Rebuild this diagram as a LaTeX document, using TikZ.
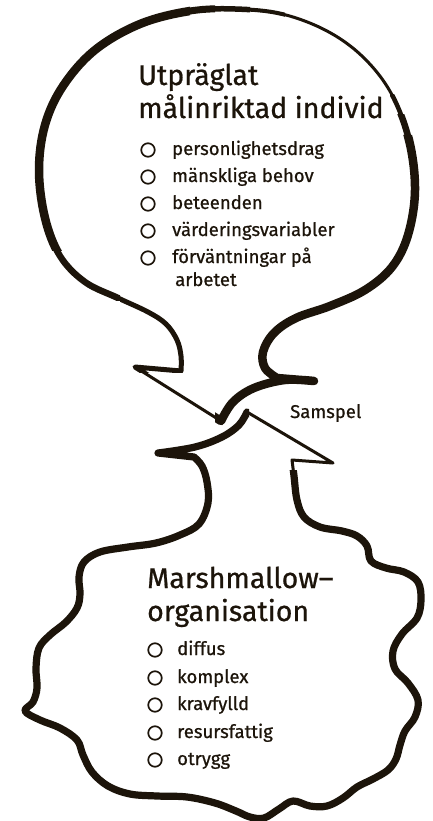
\documentclass[tikz,border=0pt]{standalone}
\usepackage{fontspec}
\setmainfont{Fira Sans}
\newfontfamily\inkfont{Fira Sans}[FakeBold=0.7]
\definecolor{ink}{HTML}{1C140A}
% outline of the upper balloon with its downward arrow
\newcommand\balloonpath{(221,421) -- (135,367) -- (181,371)
  -- plot[smooth,tension=0.6] coordinates {(181,371) (181,356) (177,340) (166,324) (148,312) (118,298) (85,282) (60,256) (45,218) (39,170) (45,125) (63,86) (95,50) (140,24) (190,11) (235,9) (282,14) (327,31) (363,57) (391,93) (409,140) (415,190) (408,235) (392,267) (365,290) (330,306) (296,318) (274,333) (263,352) (265,368) (277,378)}
  -- (314,381)
  -- plot[smooth,tension=0.6] coordinates {(314,381) (285,380) (254,388) (233,402) (221,421)} -- cycle}
% outline of the lower wavy shape with its upward arrow
\newcommand\blobpath{(247,412) -- (333,463) -- (292,460)
  -- plot[smooth,tension=0.6] coordinates {(292,460) (294,476) (297,500) (304,517) (320,527) (342,531) (357,536) (367,546) (371,561) (386,568) (404,572) (418,582) (421,600) (417,618) (402,634) (393,651) (395,669) (408,683) (418,700) (415,717) (405,731) (400,745) (396,759) (388,770) (373,779) (357,787) (343,798) (327,806) (310,806) (293,801) (279,809) (264,818) (250,817) (236,811) (215,803) (187,797) (157,796) (130,794) (108,786) (92,772) (83,755) (77,740) (60,728) (40,720) (25,711) (33,702) (37,688) (36,668) (39,648) (50,635) (66,622) (77,608) (80,594) (79,577) (84,562) (100,552) (128,547) (156,543) (180,535) (199,524) (208,503) (207,482) (202,466) (194,457)}
  -- (158,453)
  -- plot[smooth,tension=0.6] coordinates {(158,453) (195,447) (222,437) (239,425) (247,412)} -- cycle}
% redraw the balloon outline with a given width inside a clip region
\newcommand\pressure[2]{\begin{scope}\clip #1;\draw[thin stroke,line width=#2] \balloonpath;\end{scope}}
\begin{document}
\begin{tikzpicture}[x=1pt,y=-1pt,
  thin stroke/.style={draw=ink,line width=3pt,line join=round,line cap=round},
  title/.style={anchor=base west,inner sep=0pt,text=ink,font=\inkfont\fontsize{28.5}{32}\selectfont},
  item/.style={anchor=base west,inner sep=0pt,text=ink,font=\inkfont\fontsize{18.5}{22}\selectfont},
  bul/.style={circle,draw=ink,line width=1.7pt,minimum size=13.5pt,inner sep=0pt,outer sep=0pt,
    append after command={[draw=ink,line width=2.6pt,line cap=round]
      (\tikzlastnode.-75) arc[start angle=-75,end angle=25,radius=6.75pt]}}]
\useasboundingbox (0,0) rectangle (432,821);
\fill[white] (0,0) rectangle (432,821);

% upper balloon: thin base stroke, heavier where the pen pressed
\draw[thin stroke] \balloonpath;
\pressure{(250,0) rectangle (285,60)}{4pt}
\pressure{(215,0) rectangle (250,60)}{5.5pt}
\pressure{(190,0) rectangle (215,60)}{7pt}
\pressure{(0,0) rectangle (190,250)}{8.5pt}
\pressure{(0,250) rectangle (120,300)}{6.5pt}
\pressure{(120,280) rectangle (200,372)}{5pt}
\pressure{(390,95) rectangle (432,115)}{4.5pt}
\pressure{(390,115) rectangle (432,135)}{6.5pt}
\pressure{(385,135) rectangle (432,300) (250,255) rectangle (432,380) (215,376) rectangle (320,425)}{8.5pt}

% lower shape: heavy everywhere except the thin right edge of the arrow
\draw[thin stroke] \blobpath;
\begin{scope}
  \clip (0,821) -- (0,400) -- (249,400) -- (249,418) -- (280,470) -- (432,470) -- (432,821) -- cycle;
  \draw[thin stroke,line width=7.2pt] \blobpath;
\end{scope}

% upper text
\node[title] (t1) at (138,85) {Utpräglat};
\node[title] (t2) at (138,118) {målinriktad individ};
\node[bul] (ub1) at (148,150) {};
\node[item] (u1) at (172,155) {personlighetsdrag};
\node[bul] (ub2) at (148,177) {};
\node[item] (u2) at (172,182) {mänskliga behov};
\node[bul] (ub3) at (148,204) {};
\node[item] (u3) at (172,209) {beteenden};
\node[bul] (ub4) at (148,231) {};
\node[item] (u4) at (172,236) {värderingsvariabler};
\node[bul] (ub5) at (148,258) {};
\node[item] (u5) at (172,263) {förväntningar på};
\node[item] (u6) at (175,286) {arbetet};

% label between the arrows
\node[item] (sam) at (290,418) {Samspel};

% lower text
\node[title] (m1) at (147,588) {Marshmallow–};
\node[title] (m2) at (147,621) {organisation};
\node[bul] (lb1) at (155,650) {};
\node[item] (l1) at (177,655) {diffus};
\node[bul] (lb2) at (155,678) {};
\node[item] (l2) at (177,683) {komplex};
\node[bul] (lb3) at (155,705) {};
\node[item] (l3) at (177,710) {kravfylld};
\node[bul] (lb4) at (155,733) {};
\node[item] (l4) at (177,738) {resursfattig};
\node[bul] (lb5) at (155,760) {};
\node[item] (l5) at (177,765) {otrygg};
\end{tikzpicture}
\end{document}
